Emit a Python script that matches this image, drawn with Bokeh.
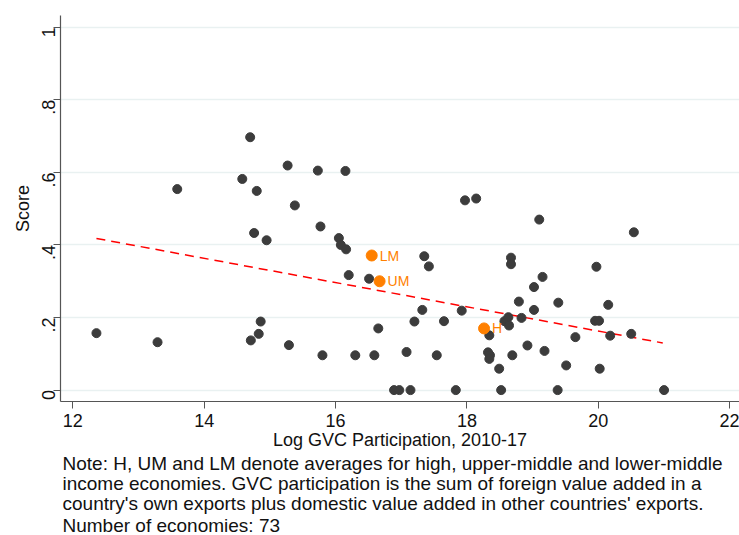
import math
from bokeh.plotting import figure
from bokeh.models import Range1d, FixedTicker, LabelSet, ColumnDataSource, Title
from bokeh.embed import file_html
from bokeh.resources import INLINE
from bokeh.core.properties import value

# ---- data ----
gvc = [14.70, 15.27, 13.59, 14.58, 14.80, 15.38, 14.76, 14.95, 12.36, 13.29,
       14.71, 14.83, 14.86, 15.29, 15.73, 16.15,
       15.77, 16.05, 16.08, 16.16, 16.20, 16.51, 16.65, 15.80, 16.30, 16.59,
       16.89, 16.97, 17.14, 17.08, 17.20, 17.32, 17.35, 17.42, 17.54, 17.65,
       17.83, 17.92, 17.97, 18.14,
       18.34, 18.32, 18.35, 18.34, 18.49, 18.52, 18.57, 18.63, 18.64, 18.67,
       18.67, 18.69, 18.79, 18.83, 18.92, 19.02, 19.02, 19.10, 19.15, 19.18,
       20.54, 19.97, 19.39, 20.15, 19.95, 20.01, 19.65, 20.18, 20.50, 19.51,
       20.02, 19.38, 21.00]
score = [0.697, 0.619, 0.554, 0.582, 0.549, 0.509, 0.433, 0.413, 0.157, 0.132,
         0.137, 0.155, 0.189, 0.124, 0.605, 0.604,
         0.451, 0.419, 0.400, 0.388, 0.317, 0.307, 0.170, 0.096, 0.096, 0.096,
         0.000, 0.000, 0.000, 0.105, 0.189, 0.221, 0.369, 0.341, 0.096, 0.190,
         0.000, 0.219, 0.523, 0.528,
         0.151, 0.104, 0.096, 0.086, 0.059, 0.000, 0.190, 0.201, 0.178, 0.365,
         0.347, 0.096, 0.244, 0.199, 0.123, 0.284, 0.221, 0.470, 0.312, 0.108,
         0.435, 0.340, 0.241, 0.235, 0.191, 0.191, 0.146, 0.150, 0.155, 0.068,
         0.059, 0.000, 0.000]

grp_names = ["LM", "UM", "H"]
grp_gvc = [16.55, 16.67, 18.26]
grp_score = [0.371, 0.300, 0.170]

fit_gvc = [12.36, 20.98]
fit_score = [0.418, 0.130]

x_ticks = [12, 14, 16, 18, 20, 22]
y_ticks = [0, 0.2, 0.4, 0.6, 0.8, 1]
y_tick_labels = ["0", ".2", ".4", ".6", ".8", "1"]

x_title = "Log GVC Participation, 2010-17"
y_title = "Score"
note_lines = [
    "Note: H, UM and LM denote averages for high, upper-middle and lower-middle",
    "income economies. GVC participation is the sum of foreign value added in a",
    "country's own exports plus domestic value added in other countries' exports.",
    "Number of economies: 73",
]

FONT = "Liberation Sans"

p = figure(width=739, height=535, output_backend="svg", toolbar_location=None,
           x_range=Range1d(11.813, 22.148), y_range=Range1d(-0.0314, 1.0325),
           min_border_left=60, min_border_right=0, min_border_top=15,
           min_border_bottom=0)
p.outline_line_color = None
p.background_fill_color = "white"
p.border_fill_color = "white"

# grid
p.xgrid.visible = False
p.ygrid.ticker = FixedTicker(ticks=y_ticks)
p.ygrid.grid_line_color = "#E9F1F1"
p.ygrid.grid_line_width = 1.5

# axes
for ax in (p.xaxis[0], p.yaxis[0]):
    ax.axis_line_color = "#555555"
    ax.axis_line_width = 1.2
    ax.major_tick_line_color = "#555555"
    ax.major_tick_out = 7
    ax.major_tick_in = 0
    ax.minor_tick_out = 0
    ax.minor_tick_in = 0
    ax.major_label_text_font = FONT
    ax.major_label_text_font_size = "18px"
    ax.major_label_text_color = "#111111"
    ax.axis_label_text_font = FONT
    ax.axis_label_text_font_size = "18px"
    ax.axis_label_text_font_style = "normal"
    ax.axis_label_text_color = "#111111"

p.xaxis.ticker = FixedTicker(ticks=x_ticks)
p.xaxis.axis_label = x_title
p.xaxis.major_label_standoff = 5
p.xaxis.axis_label_standoff = 0

p.yaxis.ticker = FixedTicker(ticks=y_ticks)
p.yaxis.major_label_overrides = {t: s for t, s in zip(y_ticks, y_tick_labels)}
p.yaxis.major_label_orientation = math.pi / 2
p.yaxis.major_label_standoff = 5
p.yaxis.axis_label = y_title
p.yaxis.axis_label_standoff = 0

# fit line
p.line(fit_gvc, fit_score, line_color="#FF0000", line_width=1.5, line_dash="9 6")

# points
p.scatter(gvc, score, size=9, fill_color="#3C3C3C", line_color="#3C3C3C")

src = ColumnDataSource(dict(x=grp_gvc, y=grp_score, name=grp_names))
p.scatter("x", "y", source=src, size=11, fill_color="#FF8000", line_color="#FF8000")
p.add_layout(LabelSet(x="x", y="y", text="name", source=src, x_offset=8,
                      text_baseline="middle", text_color="#FF8000",
                      text_font=value(FONT), text_font_size="14px"))

# note below the axis
note_standoffs = [-3, -3, -3, 0]
for line, so in zip(note_lines, note_standoffs):
    p.add_layout(Title(text=line, align="left", offset=2, standoff=so,
                       text_font=FONT, text_font_size="19px",
                       text_font_style="normal", text_color="#111111"), "below")

open("out.html", "w").write(file_html(p, INLINE))
